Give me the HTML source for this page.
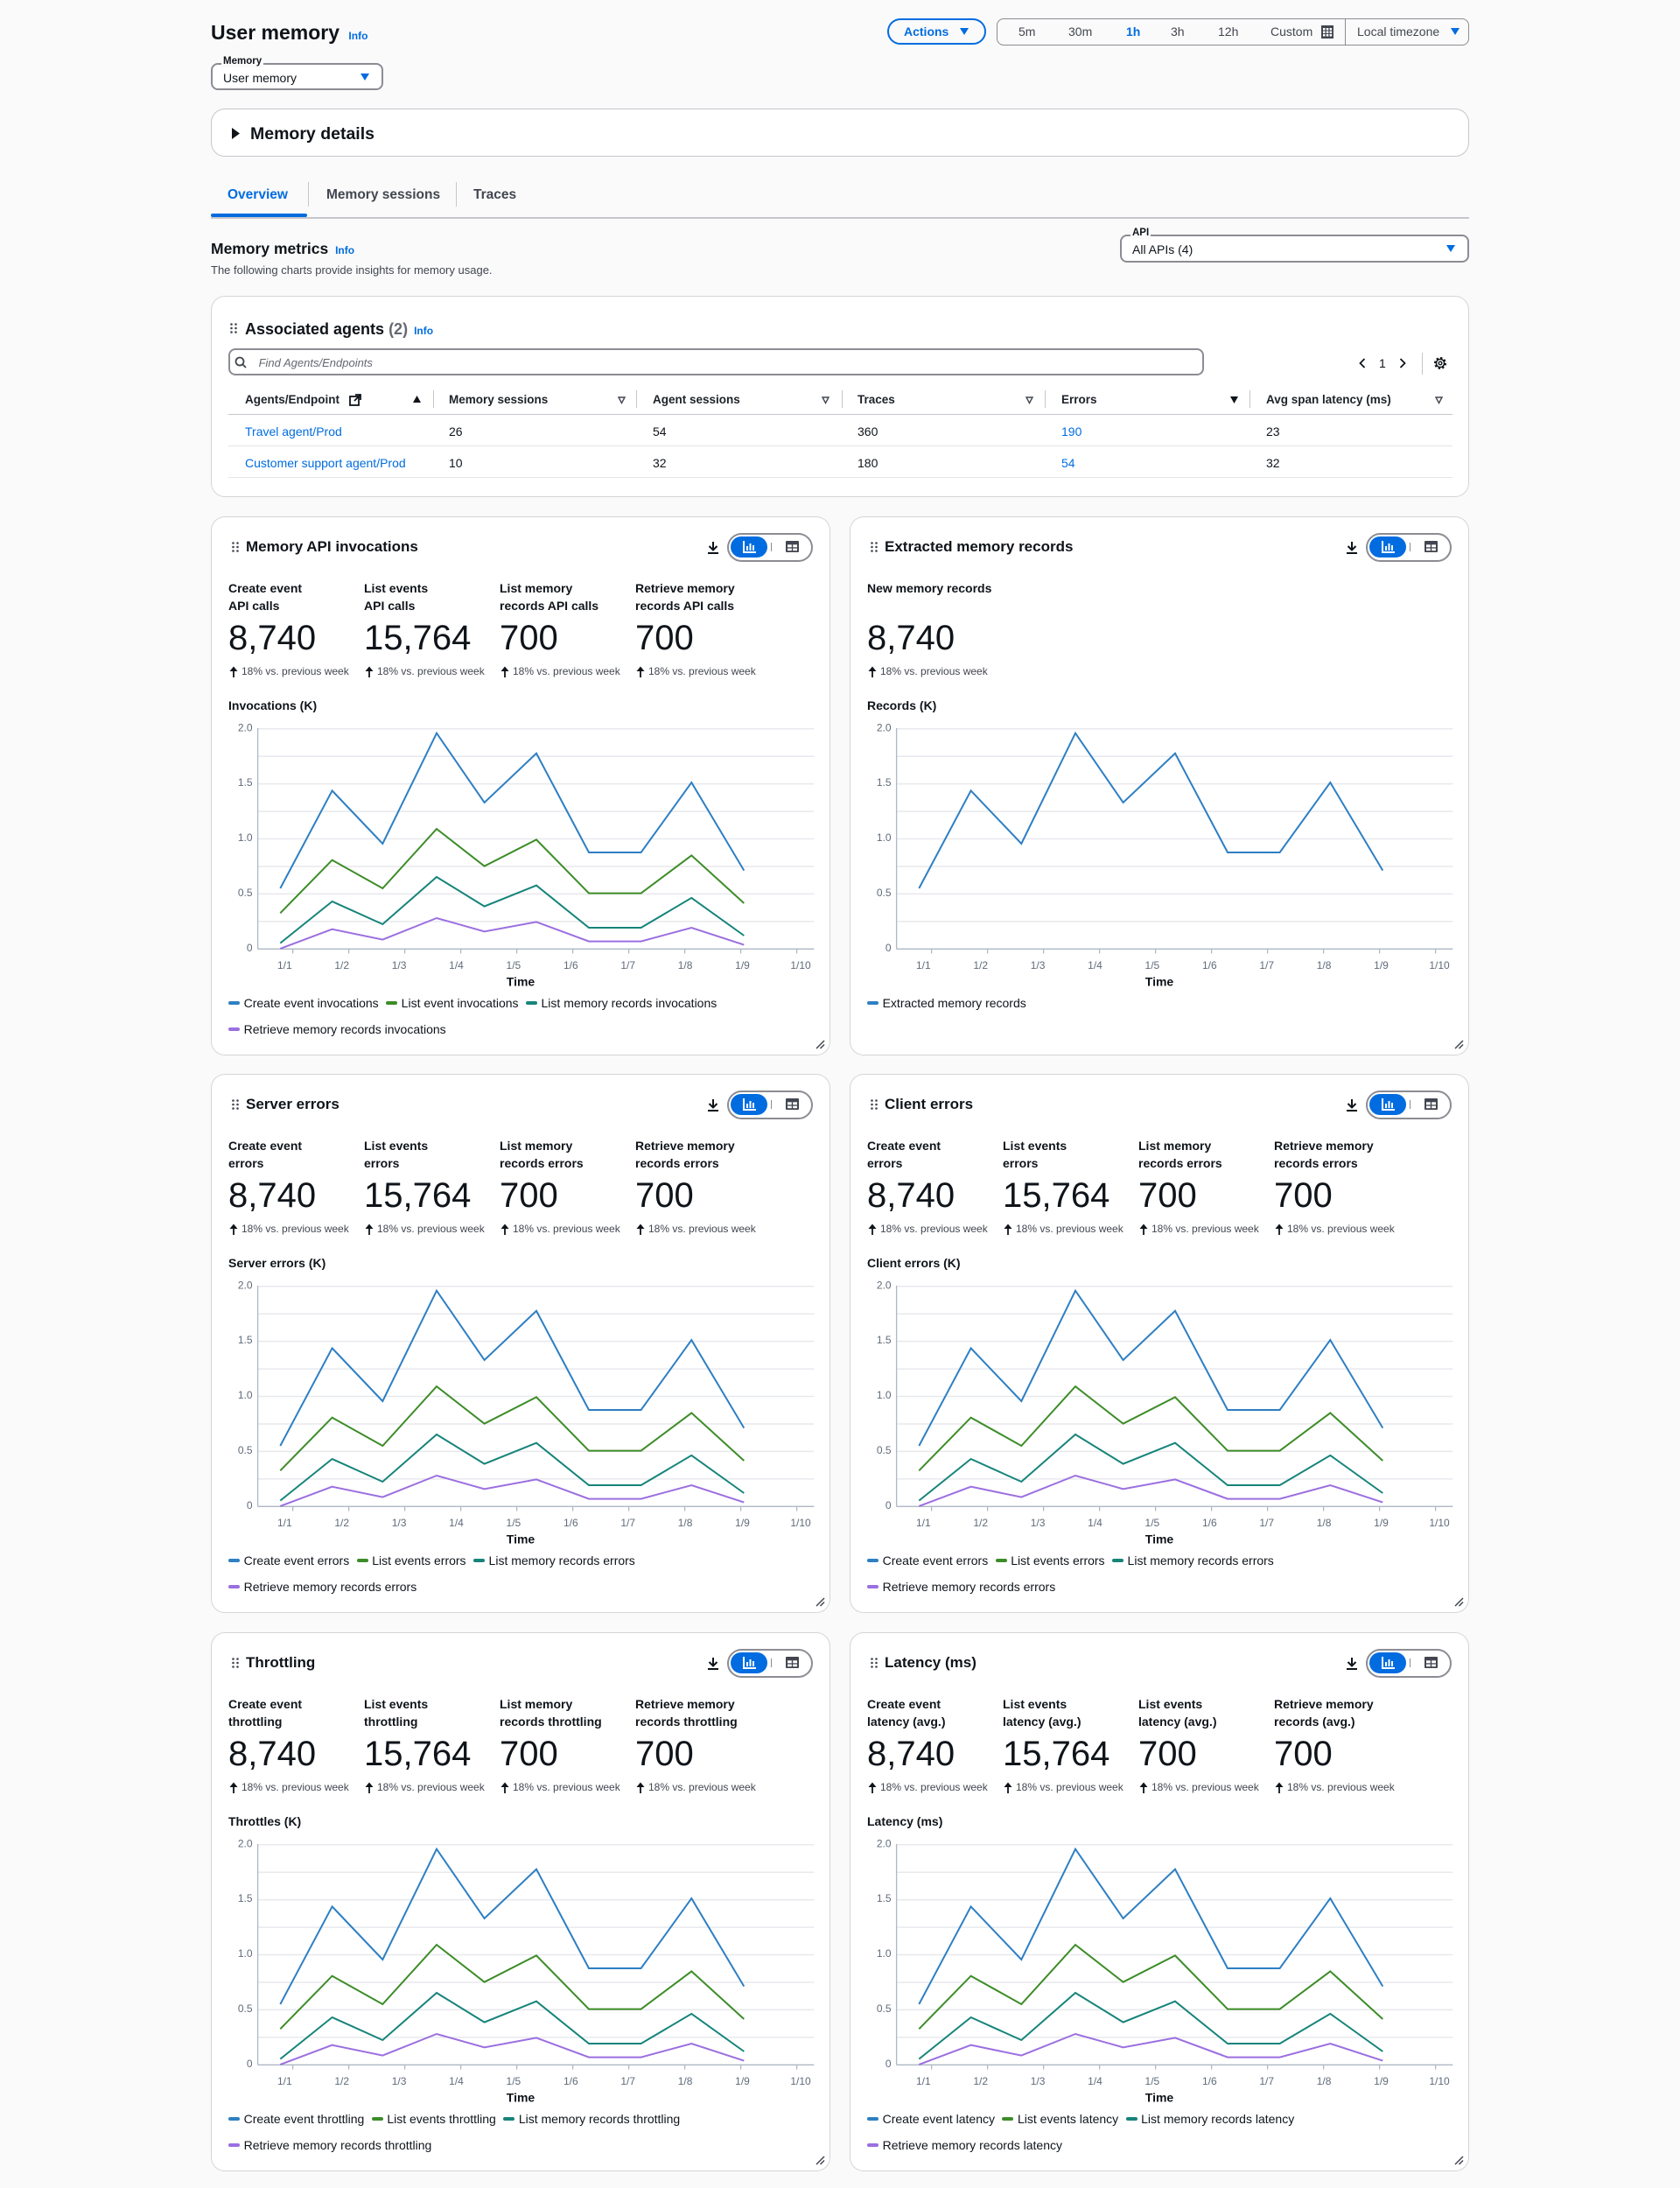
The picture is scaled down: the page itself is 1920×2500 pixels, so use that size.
<!DOCTYPE html>
<html>
<head>
<meta charset="utf-8">
<style>
*{box-sizing:border-box}
body{margin:0;width:1920px;height:2500px;background:#fafafa;font-family:"Liberation Sans",Arial,sans-serif;color:#0f141a;position:relative;overflow:hidden}
.a{position:absolute;white-space:nowrap}
.b{font-weight:bold}
.blue{color:#006ce0}
.p{position:absolute;width:708px;height:616px;background:#fff;border-radius:16px;box-shadow:inset 0 0 0 1px #d5d5da}
.pt{position:absolute;left:40px;top:23px;line-height:24px;font-size:17px;font-weight:bold;white-space:nowrap}
.sl{position:absolute;top:71.5px;line-height:20px;font-size:14px;font-weight:bold;white-space:nowrap}
.sn{position:absolute;top:114.5px;line-height:48px;font-size:40px;font-weight:300;white-space:nowrap;color:#0f141a}
.sc{position:absolute;top:169px;line-height:16px;font-size:12px;color:#424650;white-space:nowrap;padding-left:14px}
.sc svg{position:absolute;left:0;top:2px}
.ct{position:absolute;left:20px;top:205.7px;line-height:20px;font-size:14px;font-weight:bold;white-space:nowrap}
.lg{position:absolute;left:20px;line-height:20px;font-size:14px;white-space:nowrap;display:flex;align-items:center}
.lg i{display:inline-block;width:13px;height:4px;border-radius:2px;margin-right:4.6px}
.lg span{margin-right:8.4px}
.tg{position:absolute;left:589.7px;top:19px;width:98.6px;height:32.7px;border:2px solid #8c8c94;border-radius:17px}
.tgb{position:absolute;left:594px;top:23.3px;width:42.3px;height:23.4px;background:#006ce0;border-radius:12px}
.th{position:absolute;top:447px;line-height:20px;font-size:13.5px;font-weight:bold;color:#1d2129;white-space:nowrap}
.td{position:absolute;line-height:20px;font-size:14px;white-space:nowrap}
</style>
</head>
<body>

<!-- Header -->
<div class="a b" style="left:241px;top:22.7px;line-height:28px;font-size:23px">User memory <span class="blue" style="font-size:12px;margin-left:4px">Info</span></div>

<div class="a" style="left:1014px;top:20.7px;width:113px;height:30.5px;border:2px solid #006ce0;border-radius:20px"></div>
<div class="a b blue" style="left:1033px;top:27px;line-height:18px;font-size:14px">Actions</div>
<svg class="a" style="left:1097px;top:32px" width="10" height="9"><polygon points="0,0 10,0 5,8" fill="#006ce0"/></svg>

<div class="a" style="left:1139px;top:20.7px;width:540px;height:31px;border:1px solid #8c8c94;border-radius:8px;background:#fafafa"></div>
<div class="a" style="left:1164px;top:27px;line-height:18px;font-size:14px;color:#424650">5m</div>
<div class="a" style="left:1221px;top:27px;line-height:18px;font-size:14px;color:#424650">30m</div>
<div class="a b blue" style="left:1287px;top:27px;line-height:18px;font-size:14px">1h</div>
<div class="a" style="left:1338px;top:27px;line-height:18px;font-size:14px;color:#424650">3h</div>
<div class="a" style="left:1392px;top:27px;line-height:18px;font-size:14px;color:#424650">12h</div>
<div class="a" style="left:1452px;top:27px;line-height:18px;font-size:14px;color:#424650">Custom</div>
<svg class="a" style="left:1510px;top:29px" width="14" height="15"><rect width="14" height="15" fill="#424650"/><g fill="#fff"><rect x="2" y="3" width="2.5" height="2.5"/><rect x="5.8" y="3" width="2.5" height="2.5"/><rect x="9.6" y="3" width="2.5" height="2.5"/><rect x="2" y="6.5" width="2.5" height="2.5"/><rect x="5.8" y="6.5" width="2.5" height="2.5"/><rect x="9.6" y="6.5" width="2.5" height="2.5"/><rect x="2" y="10" width="2.5" height="2.5"/><rect x="5.8" y="10" width="2.5" height="2.5"/><rect x="9.6" y="10" width="2.5" height="2.5"/></g></svg>
<div class="a" style="left:1537px;top:21px;width:1px;height:30px;background:#8c8c94"></div>
<div class="a" style="left:1551px;top:27px;line-height:18px;font-size:14px;color:#424650">Local timezone</div>
<svg class="a" style="left:1658px;top:32px" width="10" height="9"><polygon points="0,0 10,0 5,8" fill="#006ce0"/></svg>

<!-- Memory select -->
<div class="a" style="left:241px;top:72px;width:197px;height:31px;border:2px solid #8c8c94;border-radius:8px;background:#fff"></div>
<div class="a b" style="left:253px;top:63px;line-height:14px;font-size:11.5px;background:#fafafa;padding:0 2px">Memory</div>
<div class="a" style="left:255px;top:80px;line-height:18px;font-size:14px">User memory</div>
<svg class="a" style="left:412px;top:84px" width="10" height="9"><polygon points="0,0 10,0 5,8" fill="#006ce0"/></svg>

<!-- Expander -->
<div class="a" style="left:241px;top:124px;width:1438px;height:55px;background:#fff;border:1px solid #c6c6cd;border-radius:16px"></div>
<svg class="a" style="left:265px;top:146px" width="10" height="13"><polygon points="0,0 9,6.5 0,13" fill="#0f141a"/></svg>
<div class="a b" style="left:286px;top:140px;line-height:26px;font-size:19.5px">Memory details</div>

<!-- Tabs -->
<div class="a b blue" style="left:260px;top:212px;line-height:22px;font-size:15.5px">Overview</div>
<div class="a" style="left:352px;top:208px;width:1px;height:28px;background:#c6c6cd"></div>
<div class="a b" style="left:373px;top:212px;line-height:22px;font-size:15.5px;color:#424650">Memory sessions</div>
<div class="a" style="left:521px;top:208px;width:1px;height:28px;background:#c6c6cd"></div>
<div class="a b" style="left:541px;top:212px;line-height:22px;font-size:15.5px;color:#424650">Traces</div>
<div class="a" style="left:241px;top:248px;width:1438px;height:1.5px;background:#c6c6cd"></div>
<div class="a" style="left:241px;top:244px;width:110px;height:4px;background:#006ce0;border-radius:2px"></div>

<!-- Memory metrics -->
<div class="a b" style="left:241px;top:272px;line-height:24px;font-size:17.5px">Memory metrics <span class="blue" style="font-size:12px;margin-left:3px">Info</span></div>
<div class="a" style="left:241px;top:300px;line-height:18px;font-size:13px;color:#424650">The following charts provide insights for memory usage.</div>

<div class="a" style="left:1280px;top:268px;width:399px;height:31.5px;border:2px solid #8c8c94;border-radius:8px;background:#fff"></div>
<div class="a b" style="left:1292px;top:259px;line-height:14px;font-size:11.5px;background:#fafafa;padding:0 2px">API</div>
<div class="a" style="left:1294px;top:276px;line-height:18px;font-size:14px">All APIs (4)</div>
<svg class="a" style="left:1653px;top:280px" width="10" height="9"><polygon points="0,0 10,0 5,8" fill="#006ce0"/></svg>

<!-- Associated agents -->
<div class="a" style="left:241px;top:338px;width:1438px;height:230px;background:#fff;border-radius:16px;box-shadow:inset 0 0 0 1px #d5d5da"></div>
<svg class="a" style="left:263px;top:369px" width="8" height="12"><g fill="#424650"><circle cx="1.5" cy="1.5" r="1.3"/><circle cx="6.5" cy="1.5" r="1.3"/><circle cx="1.5" cy="6" r="1.3"/><circle cx="6.5" cy="6" r="1.3"/><circle cx="1.5" cy="10.5" r="1.3"/><circle cx="6.5" cy="10.5" r="1.3"/></g></svg>
<div class="a b" style="left:280px;top:363px;line-height:26px;font-size:18px">Associated agents <span style="color:#656871">(2)</span> <span class="blue" style="font-size:12px;margin-left:2px">Info</span></div>

<div class="a" style="left:261px;top:398px;width:1115px;height:31px;border:2px solid #8c8c94;border-radius:8px;background:#fff"></div>
<svg class="a" style="left:268px;top:407px" width="14" height="14"><circle cx="6" cy="6" r="4.5" fill="none" stroke="#424650" stroke-width="1.8"/><line x1="9.3" y1="9.3" x2="13" y2="13" stroke="#424650" stroke-width="1.8"/></svg>
<div class="a" style="left:295.6px;top:406px;line-height:18px;font-size:13px;font-style:italic;color:#656871">Find Agents/Endpoints</div>

<svg class="a" style="left:1553px;top:409px" width="8" height="12"><polyline points="6.5,1 1.5,6 6.5,11" fill="none" stroke="#0f141a" stroke-width="1.8"/></svg>
<div class="a" style="left:1576px;top:406px;line-height:18px;font-size:14px">1</div>
<svg class="a" style="left:1599px;top:409px" width="8" height="12"><polyline points="1.5,1 6.5,6 1.5,11" fill="none" stroke="#0f141a" stroke-width="1.8"/></svg>
<div class="a" style="left:1625px;top:403px;width:1px;height:25px;background:#c6c6cd"></div>
<svg class="a" style="left:1638px;top:407px" width="16" height="16"><circle cx="8" cy="8" r="5.5" fill="none" stroke="#0f141a" stroke-width="3" stroke-dasharray="2.2 2.1"/><circle cx="8" cy="8" r="4.6" fill="none" stroke="#0f141a" stroke-width="1.5"/><circle cx="8" cy="8" r="1.8" fill="none" stroke="#0f141a" stroke-width="1.4"/></svg>

<!-- table header -->
<div class="th" style="left:280px">Agents/Endpoint</div>
<svg class="a" style="left:399px;top:450px" width="14" height="14"><rect x="1" y="3" width="10" height="10" fill="none" stroke="#0f141a" stroke-width="1.8"/><polyline points="7,1 13,1 13,7" fill="none" stroke="#0f141a" stroke-width="1.8"/><line x1="13" y1="1" x2="6" y2="8" stroke="#0f141a" stroke-width="1.8"/></svg>
<svg class="a" style="left:472px;top:452px" width="9" height="9"><polygon points="4.5,0 9,8 0,8" fill="#0f141a"/></svg>
<div class="a" style="left:494.6px;top:446px;width:1px;height:20px;background:#c6c6cd"></div>
<div class="th" style="left:513px">Memory sessions</div>
<svg class="a" style="left:706px;top:453px" width="9" height="9"><polygon points="1,1 8,1 4.5,7.5" fill="none" stroke="#424650" stroke-width="1.4"/></svg>
<div class="a" style="left:727px;top:446px;width:1px;height:20px;background:#c6c6cd"></div>
<div class="th" style="left:746px">Agent sessions</div>
<svg class="a" style="left:939px;top:453px" width="9" height="9"><polygon points="1,1 8,1 4.5,7.5" fill="none" stroke="#424650" stroke-width="1.4"/></svg>
<div class="a" style="left:961.6px;top:446px;width:1px;height:20px;background:#c6c6cd"></div>
<div class="th" style="left:980px">Traces</div>
<svg class="a" style="left:1172px;top:453px" width="9" height="9"><polygon points="1,1 8,1 4.5,7.5" fill="none" stroke="#424650" stroke-width="1.4"/></svg>
<div class="a" style="left:1194px;top:446px;width:1px;height:20px;background:#c6c6cd"></div>
<div class="th" style="left:1213px">Errors</div>
<svg class="a" style="left:1406px;top:453px" width="9" height="9"><polygon points="0,0 9,0 4.5,8" fill="#0f141a"/></svg>
<div class="a" style="left:1427.7px;top:446px;width:1px;height:20px;background:#c6c6cd"></div>
<div class="th" style="left:1447px">Avg span latency (ms)</div>
<svg class="a" style="left:1640px;top:453px" width="9" height="9"><polygon points="1,1 8,1 4.5,7.5" fill="none" stroke="#424650" stroke-width="1.4"/></svg>
<div class="a" style="left:261px;top:472.5px;width:1399px;height:1.5px;background:#c6c6cd"></div>

<div class="td blue" style="left:280px;top:483px">Travel agent/Prod</div>
<div class="td" style="left:513px;top:483px">26</div>
<div class="td" style="left:746px;top:483px">54</div>
<div class="td" style="left:980px;top:483px">360</div>
<div class="td blue" style="left:1213px;top:483px">190</div>
<div class="td" style="left:1447px;top:483px">23</div>
<div class="a" style="left:261px;top:509px;width:1399px;height:1px;background:#e6e6ea"></div>
<div class="td blue" style="left:280px;top:519px">Customer support agent/Prod</div>
<div class="td" style="left:513px;top:519px">10</div>
<div class="td" style="left:746px;top:519px">32</div>
<div class="td" style="left:980px;top:519px">180</div>
<div class="td blue" style="left:1213px;top:519px">54</div>
<div class="td" style="left:1447px;top:519px">32</div>
<div class="a" style="left:261px;top:545px;width:1399px;height:1px;background:#e6e6ea"></div>

<!-- ============ PANEL 1: Memory API invocations ============ -->
<div class="p" style="left:241px;top:590px">
<svg class="a" style="left:24px;top:29px" width="8" height="12"><g fill="#424650"><circle cx="1.5" cy="1.5" r="1.3"/><circle cx="6.5" cy="1.5" r="1.3"/><circle cx="1.5" cy="6" r="1.3"/><circle cx="6.5" cy="6" r="1.3"/><circle cx="1.5" cy="10.5" r="1.3"/><circle cx="6.5" cy="10.5" r="1.3"/></g></svg>
<div class="pt">Memory API invocations</div>
<svg class="a" style="left:567px;top:29px" width="14" height="14"><line x1="7" y1="0" x2="7" y2="9" stroke="#0f141a" stroke-width="2"/><polyline points="2.5,5 7,9.5 11.5,5" fill="none" stroke="#0f141a" stroke-width="2"/><line x1="1" y1="13" x2="13" y2="13" stroke="#0f141a" stroke-width="2"/></svg>
<div class="tg"></div><div class="tgb"></div>
<svg class="a" style="left:608px;top:28px" width="15" height="14"><polyline points="1,0 1,13 15,13" fill="none" stroke="#fff" stroke-width="2"/><rect x="4" y="6" width="2" height="5" fill="#fff"/><rect x="7.5" y="3" width="2" height="8" fill="#fff"/><rect x="11" y="5" width="2" height="6" fill="#fff"/></svg>
<div class="a" style="left:640px;top:30px;width:1px;height:10px;background:#8c8c94"></div>
<svg class="a" style="left:657px;top:28px" width="15" height="13"><rect width="15" height="13" rx="1" fill="#424650"/><g fill="#fff"><rect x="2" y="4.3" width="4.8" height="3"/><rect x="8.2" y="4.3" width="4.8" height="3"/><rect x="2" y="8.6" width="4.8" height="2.6"/><rect x="8.2" y="8.6" width="4.8" height="2.6"/></g></svg>

<div class="sl" style="left:20px">Create event<br>API calls</div>
<div class="sl" style="left:175px">List events<br>API calls</div>
<div class="sl" style="left:330px">List memory<br>records API calls</div>
<div class="sl" style="left:485px">Retrieve memory<br>records API calls</div>
<div class="sn" style="left:20px">8,740</div>
<div class="sn" style="left:175px">15,764</div>
<div class="sn" style="left:330px">700</div>
<div class="sn" style="left:485px">700</div>
<div class="sc" style="left:21px"><svg width="10" height="13"><line x1="5" y1="3" x2="5" y2="13" stroke="#0f141a" stroke-width="1.8"/><polygon points="0.5,6 5,0.5 9.5,6" fill="#0f141a"/></svg>18% vs. previous week</div>
<div class="sc" style="left:176px"><svg width="10" height="13"><line x1="5" y1="3" x2="5" y2="13" stroke="#0f141a" stroke-width="1.8"/><polygon points="0.5,6 5,0.5 9.5,6" fill="#0f141a"/></svg>18% vs. previous week</div>
<div class="sc" style="left:331px"><svg width="10" height="13"><line x1="5" y1="3" x2="5" y2="13" stroke="#0f141a" stroke-width="1.8"/><polygon points="0.5,6 5,0.5 9.5,6" fill="#0f141a"/></svg>18% vs. previous week</div>
<div class="sc" style="left:486px"><svg width="10" height="13"><line x1="5" y1="3" x2="5" y2="13" stroke="#0f141a" stroke-width="1.8"/><polygon points="0.5,6 5,0.5 9.5,6" fill="#0f141a"/></svg>18% vs. previous week</div>
<div class="ct">Invocations (K)</div>

<svg class="a" style="left:0;top:0" width="708" height="616" viewBox="0 0 708 616">
<g stroke="#e8e9ee" stroke-width="1.5"><line x1="54" x2="689.3" y1="242.7" y2="242.7"/><line x1="54" x2="689.3" y1="274.2" y2="274.2"/><line x1="54" x2="689.3" y1="305.6" y2="305.6"/><line x1="54" x2="689.3" y1="337.1" y2="337.1"/><line x1="54" x2="689.3" y1="368.5" y2="368.5"/><line x1="54" x2="689.3" y1="400" y2="400"/><line x1="54" x2="689.3" y1="431.4" y2="431.4"/><line x1="54" x2="689.3" y1="462.9" y2="462.9"/></g>
<g stroke="#aeb7c4" stroke-width="1.3"><line x1="53.6" x2="53.6" y1="242" y2="494.3"/><line x1="53.6" x2="689.3" y1="494.3" y2="494.3"/><line x1="93.6" x2="93.6" y1="494.3" y2="499.5"/><line x1="157.6" x2="157.6" y1="494.3" y2="499.5"/><line x1="221.6" x2="221.6" y1="494.3" y2="499.5"/><line x1="285.6" x2="285.6" y1="494.3" y2="499.5"/><line x1="349.6" x2="349.6" y1="494.3" y2="499.5"/><line x1="413.6" x2="413.6" y1="494.3" y2="499.5"/><line x1="477.6" x2="477.6" y1="494.3" y2="499.5"/><line x1="541.6" x2="541.6" y1="494.3" y2="499.5"/><line x1="605.6" x2="605.6" y1="494.3" y2="499.5"/><line x1="669.6" x2="669.6" y1="494.3" y2="499.5"/></g>
<g font-size="12" fill="#5f6b7a" text-anchor="end" font-family="Liberation Sans, sans-serif"><text x="47.5" y="245.3">2.0</text><text x="47.5" y="308.2">1.5</text><text x="47.5" y="371.1">1.0</text><text x="47.5" y="434">0.5</text><text x="47.5" y="496.9">0</text></g>
<g font-size="12" fill="#5f6b7a" text-anchor="middle" font-family="Liberation Sans, sans-serif"><text x="84.3" y="517">1/1</text><text x="149.7" y="517">1/2</text><text x="215.1" y="517">1/3</text><text x="280.5" y="517">1/4</text><text x="345.9" y="517">1/5</text><text x="411.3" y="517">1/6</text><text x="476.7" y="517">1/7</text><text x="542.1" y="517">1/8</text><text x="607.5" y="517">1/9</text><text x="674" y="517">1/10</text></g>
<text x="354" y="536.5" font-size="14" font-weight="bold" text-anchor="middle" fill="#0f141a" font-family="Liberation Sans, sans-serif">Time</text>
<g fill="none" stroke-width="2">
<polyline stroke="#2e7fc3" points="79.3,425 138.6,313.4 196.3,374 258,247.7 312.6,327 372,270.8 432,384 491.6,384 549.3,304.1 609.3,404.6"/>
<polyline stroke="#3d8c28" points="79.3,453.3 138.6,392.7 196.3,425 258,357.1 312.6,399.7 372,369.4 432,430.6 491.6,430.6 549.3,387.4 609.3,442"/>
<polyline stroke="#16847a" points="79.3,487.6 138.6,440 196.3,466 258,412 312.6,445.6 372,421.7 432,470 491.6,470 549.3,435.9 609.3,479"/>
<polyline stroke="#9b6fe0" points="79.3,493.9 138.6,471.7 196.3,483.6 258,459 312.6,474.3 372,463.4 432,485.6 491.6,485.6 549.3,470 609.3,489.6"/>
</g>
<g stroke="#424650" stroke-width="1.5"><line x1="701" y1="599" x2="692" y2="608"/><line x1="701" y1="603.5" x2="696.5" y2="608"/></g>
</svg>
<div class="lg" style="top:546px"><i style="background:#2e7fc3"></i><span>Create event invocations</span><i style="background:#3d8c28"></i><span>List event invocations</span><i style="background:#16847a"></i><span>List memory records invocations</span></div>
<div class="lg" style="top:576px"><i style="background:#9b6fe0"></i><span>Retrieve memory records invocations</span></div>
</div>

<!-- ============ PANEL 2: Extracted memory records ============ -->
<div class="p" style="left:971px;top:590px">
<svg class="a" style="left:24px;top:29px" width="8" height="12"><g fill="#424650"><circle cx="1.5" cy="1.5" r="1.3"/><circle cx="6.5" cy="1.5" r="1.3"/><circle cx="1.5" cy="6" r="1.3"/><circle cx="6.5" cy="6" r="1.3"/><circle cx="1.5" cy="10.5" r="1.3"/><circle cx="6.5" cy="10.5" r="1.3"/></g></svg>
<div class="pt">Extracted memory records</div>
<svg class="a" style="left:567px;top:29px" width="14" height="14"><line x1="7" y1="0" x2="7" y2="9" stroke="#0f141a" stroke-width="2"/><polyline points="2.5,5 7,9.5 11.5,5" fill="none" stroke="#0f141a" stroke-width="2"/><line x1="1" y1="13" x2="13" y2="13" stroke="#0f141a" stroke-width="2"/></svg>
<div class="tg"></div><div class="tgb"></div>
<svg class="a" style="left:608px;top:28px" width="15" height="14"><polyline points="1,0 1,13 15,13" fill="none" stroke="#fff" stroke-width="2"/><rect x="4" y="6" width="2" height="5" fill="#fff"/><rect x="7.5" y="3" width="2" height="8" fill="#fff"/><rect x="11" y="5" width="2" height="6" fill="#fff"/></svg>
<div class="a" style="left:640px;top:30px;width:1px;height:10px;background:#8c8c94"></div>
<svg class="a" style="left:657px;top:28px" width="15" height="13"><rect width="15" height="13" rx="1" fill="#424650"/><g fill="#fff"><rect x="2" y="4.3" width="4.8" height="3"/><rect x="8.2" y="4.3" width="4.8" height="3"/><rect x="2" y="8.6" width="4.8" height="2.6"/><rect x="8.2" y="8.6" width="4.8" height="2.6"/></g></svg>

<div class="sl" style="left:20px">New memory records</div>
<div class="sn" style="left:20px">8,740</div>
<div class="sc" style="left:21px"><svg width="10" height="13"><line x1="5" y1="3" x2="5" y2="13" stroke="#0f141a" stroke-width="1.8"/><polygon points="0.5,6 5,0.5 9.5,6" fill="#0f141a"/></svg>18% vs. previous week</div>
<div class="ct">Records (K)</div>

<svg class="a" style="left:0;top:0" width="708" height="616" viewBox="0 0 708 616">
<g stroke="#e8e9ee" stroke-width="1.5"><line x1="54" x2="689.3" y1="242.7" y2="242.7"/><line x1="54" x2="689.3" y1="274.2" y2="274.2"/><line x1="54" x2="689.3" y1="305.6" y2="305.6"/><line x1="54" x2="689.3" y1="337.1" y2="337.1"/><line x1="54" x2="689.3" y1="368.5" y2="368.5"/><line x1="54" x2="689.3" y1="400" y2="400"/><line x1="54" x2="689.3" y1="431.4" y2="431.4"/><line x1="54" x2="689.3" y1="462.9" y2="462.9"/></g>
<g stroke="#aeb7c4" stroke-width="1.3"><line x1="53.6" x2="53.6" y1="242" y2="494.3"/><line x1="53.6" x2="689.3" y1="494.3" y2="494.3"/><line x1="93.6" x2="93.6" y1="494.3" y2="499.5"/><line x1="157.6" x2="157.6" y1="494.3" y2="499.5"/><line x1="221.6" x2="221.6" y1="494.3" y2="499.5"/><line x1="285.6" x2="285.6" y1="494.3" y2="499.5"/><line x1="349.6" x2="349.6" y1="494.3" y2="499.5"/><line x1="413.6" x2="413.6" y1="494.3" y2="499.5"/><line x1="477.6" x2="477.6" y1="494.3" y2="499.5"/><line x1="541.6" x2="541.6" y1="494.3" y2="499.5"/><line x1="605.6" x2="605.6" y1="494.3" y2="499.5"/><line x1="669.6" x2="669.6" y1="494.3" y2="499.5"/></g>
<g font-size="12" fill="#5f6b7a" text-anchor="end" font-family="Liberation Sans, sans-serif"><text x="47.5" y="245.3">2.0</text><text x="47.5" y="308.2">1.5</text><text x="47.5" y="371.1">1.0</text><text x="47.5" y="434">0.5</text><text x="47.5" y="496.9">0</text></g>
<g font-size="12" fill="#5f6b7a" text-anchor="middle" font-family="Liberation Sans, sans-serif"><text x="84.3" y="517">1/1</text><text x="149.7" y="517">1/2</text><text x="215.1" y="517">1/3</text><text x="280.5" y="517">1/4</text><text x="345.9" y="517">1/5</text><text x="411.3" y="517">1/6</text><text x="476.7" y="517">1/7</text><text x="542.1" y="517">1/8</text><text x="607.5" y="517">1/9</text><text x="674" y="517">1/10</text></g>
<text x="354" y="536.5" font-size="14" font-weight="bold" text-anchor="middle" fill="#0f141a" font-family="Liberation Sans, sans-serif">Time</text>
<g fill="none" stroke-width="2">
<polyline stroke="#2e7fc3" points="79.3,425 138.6,313.4 196.3,374 258,247.7 312.6,327 372,270.8 432,384 491.6,384 549.3,304.1 609.3,404.6"/>
</g>
<g stroke="#424650" stroke-width="1.5"><line x1="701" y1="599" x2="692" y2="608"/><line x1="701" y1="603.5" x2="696.5" y2="608"/></g>
</svg>
<div class="lg" style="top:546px"><i style="background:#2e7fc3"></i><span>Extracted memory records</span></div>
</div>

<!-- ============ PANEL 3: Server errors ============ -->
<div class="p" style="left:241px;top:1227px">
<svg class="a" style="left:24px;top:29px" width="8" height="12"><g fill="#424650"><circle cx="1.5" cy="1.5" r="1.3"/><circle cx="6.5" cy="1.5" r="1.3"/><circle cx="1.5" cy="6" r="1.3"/><circle cx="6.5" cy="6" r="1.3"/><circle cx="1.5" cy="10.5" r="1.3"/><circle cx="6.5" cy="10.5" r="1.3"/></g></svg>
<div class="pt">Server errors</div>
<svg class="a" style="left:567px;top:29px" width="14" height="14"><line x1="7" y1="0" x2="7" y2="9" stroke="#0f141a" stroke-width="2"/><polyline points="2.5,5 7,9.5 11.5,5" fill="none" stroke="#0f141a" stroke-width="2"/><line x1="1" y1="13" x2="13" y2="13" stroke="#0f141a" stroke-width="2"/></svg>
<div class="tg"></div><div class="tgb"></div>
<svg class="a" style="left:608px;top:28px" width="15" height="14"><polyline points="1,0 1,13 15,13" fill="none" stroke="#fff" stroke-width="2"/><rect x="4" y="6" width="2" height="5" fill="#fff"/><rect x="7.5" y="3" width="2" height="8" fill="#fff"/><rect x="11" y="5" width="2" height="6" fill="#fff"/></svg>
<div class="a" style="left:640px;top:30px;width:1px;height:10px;background:#8c8c94"></div>
<svg class="a" style="left:657px;top:28px" width="15" height="13"><rect width="15" height="13" rx="1" fill="#424650"/><g fill="#fff"><rect x="2" y="4.3" width="4.8" height="3"/><rect x="8.2" y="4.3" width="4.8" height="3"/><rect x="2" y="8.6" width="4.8" height="2.6"/><rect x="8.2" y="8.6" width="4.8" height="2.6"/></g></svg>

<div class="sl" style="left:20px">Create event<br>errors</div>
<div class="sl" style="left:175px">List events<br>errors</div>
<div class="sl" style="left:330px">List memory<br>records errors</div>
<div class="sl" style="left:485px">Retrieve memory<br>records errors</div>
<div class="sn" style="left:20px">8,740</div>
<div class="sn" style="left:175px">15,764</div>
<div class="sn" style="left:330px">700</div>
<div class="sn" style="left:485px">700</div>
<div class="sc" style="left:21px"><svg width="10" height="13"><line x1="5" y1="3" x2="5" y2="13" stroke="#0f141a" stroke-width="1.8"/><polygon points="0.5,6 5,0.5 9.5,6" fill="#0f141a"/></svg>18% vs. previous week</div>
<div class="sc" style="left:176px"><svg width="10" height="13"><line x1="5" y1="3" x2="5" y2="13" stroke="#0f141a" stroke-width="1.8"/><polygon points="0.5,6 5,0.5 9.5,6" fill="#0f141a"/></svg>18% vs. previous week</div>
<div class="sc" style="left:331px"><svg width="10" height="13"><line x1="5" y1="3" x2="5" y2="13" stroke="#0f141a" stroke-width="1.8"/><polygon points="0.5,6 5,0.5 9.5,6" fill="#0f141a"/></svg>18% vs. previous week</div>
<div class="sc" style="left:486px"><svg width="10" height="13"><line x1="5" y1="3" x2="5" y2="13" stroke="#0f141a" stroke-width="1.8"/><polygon points="0.5,6 5,0.5 9.5,6" fill="#0f141a"/></svg>18% vs. previous week</div>
<div class="ct">Server errors (K)</div>

<svg class="a" style="left:0;top:0" width="708" height="616" viewBox="0 0 708 616">
<g stroke="#e8e9ee" stroke-width="1.5"><line x1="54" x2="689.3" y1="242.7" y2="242.7"/><line x1="54" x2="689.3" y1="274.2" y2="274.2"/><line x1="54" x2="689.3" y1="305.6" y2="305.6"/><line x1="54" x2="689.3" y1="337.1" y2="337.1"/><line x1="54" x2="689.3" y1="368.5" y2="368.5"/><line x1="54" x2="689.3" y1="400" y2="400"/><line x1="54" x2="689.3" y1="431.4" y2="431.4"/><line x1="54" x2="689.3" y1="462.9" y2="462.9"/></g>
<g stroke="#aeb7c4" stroke-width="1.3"><line x1="53.6" x2="53.6" y1="242" y2="494.3"/><line x1="53.6" x2="689.3" y1="494.3" y2="494.3"/><line x1="93.6" x2="93.6" y1="494.3" y2="499.5"/><line x1="157.6" x2="157.6" y1="494.3" y2="499.5"/><line x1="221.6" x2="221.6" y1="494.3" y2="499.5"/><line x1="285.6" x2="285.6" y1="494.3" y2="499.5"/><line x1="349.6" x2="349.6" y1="494.3" y2="499.5"/><line x1="413.6" x2="413.6" y1="494.3" y2="499.5"/><line x1="477.6" x2="477.6" y1="494.3" y2="499.5"/><line x1="541.6" x2="541.6" y1="494.3" y2="499.5"/><line x1="605.6" x2="605.6" y1="494.3" y2="499.5"/><line x1="669.6" x2="669.6" y1="494.3" y2="499.5"/></g>
<g font-size="12" fill="#5f6b7a" text-anchor="end" font-family="Liberation Sans, sans-serif"><text x="47.5" y="245.3">2.0</text><text x="47.5" y="308.2">1.5</text><text x="47.5" y="371.1">1.0</text><text x="47.5" y="434">0.5</text><text x="47.5" y="496.9">0</text></g>
<g font-size="12" fill="#5f6b7a" text-anchor="middle" font-family="Liberation Sans, sans-serif"><text x="84.3" y="517">1/1</text><text x="149.7" y="517">1/2</text><text x="215.1" y="517">1/3</text><text x="280.5" y="517">1/4</text><text x="345.9" y="517">1/5</text><text x="411.3" y="517">1/6</text><text x="476.7" y="517">1/7</text><text x="542.1" y="517">1/8</text><text x="607.5" y="517">1/9</text><text x="674" y="517">1/10</text></g>
<text x="354" y="536.5" font-size="14" font-weight="bold" text-anchor="middle" fill="#0f141a" font-family="Liberation Sans, sans-serif">Time</text>
<g fill="none" stroke-width="2">
<polyline stroke="#2e7fc3" points="79.3,425 138.6,313.4 196.3,374 258,247.7 312.6,327 372,270.8 432,384 491.6,384 549.3,304.1 609.3,404.6"/>
<polyline stroke="#3d8c28" points="79.3,453.3 138.6,392.7 196.3,425 258,357.1 312.6,399.7 372,369.4 432,430.6 491.6,430.6 549.3,387.4 609.3,442"/>
<polyline stroke="#16847a" points="79.3,487.6 138.6,440 196.3,466 258,412 312.6,445.6 372,421.7 432,470 491.6,470 549.3,435.9 609.3,479"/>
<polyline stroke="#9b6fe0" points="79.3,493.9 138.6,471.7 196.3,483.6 258,459 312.6,474.3 372,463.4 432,485.6 491.6,485.6 549.3,470 609.3,489.6"/>
</g>
<g stroke="#424650" stroke-width="1.5"><line x1="701" y1="599" x2="692" y2="608"/><line x1="701" y1="603.5" x2="696.5" y2="608"/></g>
</svg>
<div class="lg" style="top:546px"><i style="background:#2e7fc3"></i><span>Create event errors</span><i style="background:#3d8c28"></i><span>List events errors</span><i style="background:#16847a"></i><span>List memory records errors</span></div>
<div class="lg" style="top:576px"><i style="background:#9b6fe0"></i><span>Retrieve memory records errors</span></div>
</div>

<!-- ============ PANEL 4: Client errors ============ -->
<div class="p" style="left:971px;top:1227px">
<svg class="a" style="left:24px;top:29px" width="8" height="12"><g fill="#424650"><circle cx="1.5" cy="1.5" r="1.3"/><circle cx="6.5" cy="1.5" r="1.3"/><circle cx="1.5" cy="6" r="1.3"/><circle cx="6.5" cy="6" r="1.3"/><circle cx="1.5" cy="10.5" r="1.3"/><circle cx="6.5" cy="10.5" r="1.3"/></g></svg>
<div class="pt">Client errors</div>
<svg class="a" style="left:567px;top:29px" width="14" height="14"><line x1="7" y1="0" x2="7" y2="9" stroke="#0f141a" stroke-width="2"/><polyline points="2.5,5 7,9.5 11.5,5" fill="none" stroke="#0f141a" stroke-width="2"/><line x1="1" y1="13" x2="13" y2="13" stroke="#0f141a" stroke-width="2"/></svg>
<div class="tg"></div><div class="tgb"></div>
<svg class="a" style="left:608px;top:28px" width="15" height="14"><polyline points="1,0 1,13 15,13" fill="none" stroke="#fff" stroke-width="2"/><rect x="4" y="6" width="2" height="5" fill="#fff"/><rect x="7.5" y="3" width="2" height="8" fill="#fff"/><rect x="11" y="5" width="2" height="6" fill="#fff"/></svg>
<div class="a" style="left:640px;top:30px;width:1px;height:10px;background:#8c8c94"></div>
<svg class="a" style="left:657px;top:28px" width="15" height="13"><rect width="15" height="13" rx="1" fill="#424650"/><g fill="#fff"><rect x="2" y="4.3" width="4.8" height="3"/><rect x="8.2" y="4.3" width="4.8" height="3"/><rect x="2" y="8.6" width="4.8" height="2.6"/><rect x="8.2" y="8.6" width="4.8" height="2.6"/></g></svg>

<div class="sl" style="left:20px">Create event<br>errors</div>
<div class="sl" style="left:175px">List events<br>errors</div>
<div class="sl" style="left:330px">List memory<br>records errors</div>
<div class="sl" style="left:485px">Retrieve memory<br>records errors</div>
<div class="sn" style="left:20px">8,740</div>
<div class="sn" style="left:175px">15,764</div>
<div class="sn" style="left:330px">700</div>
<div class="sn" style="left:485px">700</div>
<div class="sc" style="left:21px"><svg width="10" height="13"><line x1="5" y1="3" x2="5" y2="13" stroke="#0f141a" stroke-width="1.8"/><polygon points="0.5,6 5,0.5 9.5,6" fill="#0f141a"/></svg>18% vs. previous week</div>
<div class="sc" style="left:176px"><svg width="10" height="13"><line x1="5" y1="3" x2="5" y2="13" stroke="#0f141a" stroke-width="1.8"/><polygon points="0.5,6 5,0.5 9.5,6" fill="#0f141a"/></svg>18% vs. previous week</div>
<div class="sc" style="left:331px"><svg width="10" height="13"><line x1="5" y1="3" x2="5" y2="13" stroke="#0f141a" stroke-width="1.8"/><polygon points="0.5,6 5,0.5 9.5,6" fill="#0f141a"/></svg>18% vs. previous week</div>
<div class="sc" style="left:486px"><svg width="10" height="13"><line x1="5" y1="3" x2="5" y2="13" stroke="#0f141a" stroke-width="1.8"/><polygon points="0.5,6 5,0.5 9.5,6" fill="#0f141a"/></svg>18% vs. previous week</div>
<div class="ct">Client errors (K)</div>

<svg class="a" style="left:0;top:0" width="708" height="616" viewBox="0 0 708 616">
<g stroke="#e8e9ee" stroke-width="1.5"><line x1="54" x2="689.3" y1="242.7" y2="242.7"/><line x1="54" x2="689.3" y1="274.2" y2="274.2"/><line x1="54" x2="689.3" y1="305.6" y2="305.6"/><line x1="54" x2="689.3" y1="337.1" y2="337.1"/><line x1="54" x2="689.3" y1="368.5" y2="368.5"/><line x1="54" x2="689.3" y1="400" y2="400"/><line x1="54" x2="689.3" y1="431.4" y2="431.4"/><line x1="54" x2="689.3" y1="462.9" y2="462.9"/></g>
<g stroke="#aeb7c4" stroke-width="1.3"><line x1="53.6" x2="53.6" y1="242" y2="494.3"/><line x1="53.6" x2="689.3" y1="494.3" y2="494.3"/><line x1="93.6" x2="93.6" y1="494.3" y2="499.5"/><line x1="157.6" x2="157.6" y1="494.3" y2="499.5"/><line x1="221.6" x2="221.6" y1="494.3" y2="499.5"/><line x1="285.6" x2="285.6" y1="494.3" y2="499.5"/><line x1="349.6" x2="349.6" y1="494.3" y2="499.5"/><line x1="413.6" x2="413.6" y1="494.3" y2="499.5"/><line x1="477.6" x2="477.6" y1="494.3" y2="499.5"/><line x1="541.6" x2="541.6" y1="494.3" y2="499.5"/><line x1="605.6" x2="605.6" y1="494.3" y2="499.5"/><line x1="669.6" x2="669.6" y1="494.3" y2="499.5"/></g>
<g font-size="12" fill="#5f6b7a" text-anchor="end" font-family="Liberation Sans, sans-serif"><text x="47.5" y="245.3">2.0</text><text x="47.5" y="308.2">1.5</text><text x="47.5" y="371.1">1.0</text><text x="47.5" y="434">0.5</text><text x="47.5" y="496.9">0</text></g>
<g font-size="12" fill="#5f6b7a" text-anchor="middle" font-family="Liberation Sans, sans-serif"><text x="84.3" y="517">1/1</text><text x="149.7" y="517">1/2</text><text x="215.1" y="517">1/3</text><text x="280.5" y="517">1/4</text><text x="345.9" y="517">1/5</text><text x="411.3" y="517">1/6</text><text x="476.7" y="517">1/7</text><text x="542.1" y="517">1/8</text><text x="607.5" y="517">1/9</text><text x="674" y="517">1/10</text></g>
<text x="354" y="536.5" font-size="14" font-weight="bold" text-anchor="middle" fill="#0f141a" font-family="Liberation Sans, sans-serif">Time</text>
<g fill="none" stroke-width="2">
<polyline stroke="#2e7fc3" points="79.3,425 138.6,313.4 196.3,374 258,247.7 312.6,327 372,270.8 432,384 491.6,384 549.3,304.1 609.3,404.6"/>
<polyline stroke="#3d8c28" points="79.3,453.3 138.6,392.7 196.3,425 258,357.1 312.6,399.7 372,369.4 432,430.6 491.6,430.6 549.3,387.4 609.3,442"/>
<polyline stroke="#16847a" points="79.3,487.6 138.6,440 196.3,466 258,412 312.6,445.6 372,421.7 432,470 491.6,470 549.3,435.9 609.3,479"/>
<polyline stroke="#9b6fe0" points="79.3,493.9 138.6,471.7 196.3,483.6 258,459 312.6,474.3 372,463.4 432,485.6 491.6,485.6 549.3,470 609.3,489.6"/>
</g>
<g stroke="#424650" stroke-width="1.5"><line x1="701" y1="599" x2="692" y2="608"/><line x1="701" y1="603.5" x2="696.5" y2="608"/></g>
</svg>
<div class="lg" style="top:546px"><i style="background:#2e7fc3"></i><span>Create event errors</span><i style="background:#3d8c28"></i><span>List events errors</span><i style="background:#16847a"></i><span>List memory records errors</span></div>
<div class="lg" style="top:576px"><i style="background:#9b6fe0"></i><span>Retrieve memory records errors</span></div>
</div>

<!-- ============ PANEL 5: Throttling ============ -->
<div class="p" style="left:241px;top:1865px">
<svg class="a" style="left:24px;top:29px" width="8" height="12"><g fill="#424650"><circle cx="1.5" cy="1.5" r="1.3"/><circle cx="6.5" cy="1.5" r="1.3"/><circle cx="1.5" cy="6" r="1.3"/><circle cx="6.5" cy="6" r="1.3"/><circle cx="1.5" cy="10.5" r="1.3"/><circle cx="6.5" cy="10.5" r="1.3"/></g></svg>
<div class="pt">Throttling</div>
<svg class="a" style="left:567px;top:29px" width="14" height="14"><line x1="7" y1="0" x2="7" y2="9" stroke="#0f141a" stroke-width="2"/><polyline points="2.5,5 7,9.5 11.5,5" fill="none" stroke="#0f141a" stroke-width="2"/><line x1="1" y1="13" x2="13" y2="13" stroke="#0f141a" stroke-width="2"/></svg>
<div class="tg"></div><div class="tgb"></div>
<svg class="a" style="left:608px;top:28px" width="15" height="14"><polyline points="1,0 1,13 15,13" fill="none" stroke="#fff" stroke-width="2"/><rect x="4" y="6" width="2" height="5" fill="#fff"/><rect x="7.5" y="3" width="2" height="8" fill="#fff"/><rect x="11" y="5" width="2" height="6" fill="#fff"/></svg>
<div class="a" style="left:640px;top:30px;width:1px;height:10px;background:#8c8c94"></div>
<svg class="a" style="left:657px;top:28px" width="15" height="13"><rect width="15" height="13" rx="1" fill="#424650"/><g fill="#fff"><rect x="2" y="4.3" width="4.8" height="3"/><rect x="8.2" y="4.3" width="4.8" height="3"/><rect x="2" y="8.6" width="4.8" height="2.6"/><rect x="8.2" y="8.6" width="4.8" height="2.6"/></g></svg>

<div class="sl" style="left:20px">Create event<br>throttling</div>
<div class="sl" style="left:175px">List events<br>throttling</div>
<div class="sl" style="left:330px">List memory<br>records throttling</div>
<div class="sl" style="left:485px">Retrieve memory<br>records throttling</div>
<div class="sn" style="left:20px">8,740</div>
<div class="sn" style="left:175px">15,764</div>
<div class="sn" style="left:330px">700</div>
<div class="sn" style="left:485px">700</div>
<div class="sc" style="left:21px"><svg width="10" height="13"><line x1="5" y1="3" x2="5" y2="13" stroke="#0f141a" stroke-width="1.8"/><polygon points="0.5,6 5,0.5 9.5,6" fill="#0f141a"/></svg>18% vs. previous week</div>
<div class="sc" style="left:176px"><svg width="10" height="13"><line x1="5" y1="3" x2="5" y2="13" stroke="#0f141a" stroke-width="1.8"/><polygon points="0.5,6 5,0.5 9.5,6" fill="#0f141a"/></svg>18% vs. previous week</div>
<div class="sc" style="left:331px"><svg width="10" height="13"><line x1="5" y1="3" x2="5" y2="13" stroke="#0f141a" stroke-width="1.8"/><polygon points="0.5,6 5,0.5 9.5,6" fill="#0f141a"/></svg>18% vs. previous week</div>
<div class="sc" style="left:486px"><svg width="10" height="13"><line x1="5" y1="3" x2="5" y2="13" stroke="#0f141a" stroke-width="1.8"/><polygon points="0.5,6 5,0.5 9.5,6" fill="#0f141a"/></svg>18% vs. previous week</div>
<div class="ct">Throttles (K)</div>

<svg class="a" style="left:0;top:0" width="708" height="616" viewBox="0 0 708 616">
<g stroke="#e8e9ee" stroke-width="1.5"><line x1="54" x2="689.3" y1="242.7" y2="242.7"/><line x1="54" x2="689.3" y1="274.2" y2="274.2"/><line x1="54" x2="689.3" y1="305.6" y2="305.6"/><line x1="54" x2="689.3" y1="337.1" y2="337.1"/><line x1="54" x2="689.3" y1="368.5" y2="368.5"/><line x1="54" x2="689.3" y1="400" y2="400"/><line x1="54" x2="689.3" y1="431.4" y2="431.4"/><line x1="54" x2="689.3" y1="462.9" y2="462.9"/></g>
<g stroke="#aeb7c4" stroke-width="1.3"><line x1="53.6" x2="53.6" y1="242" y2="494.3"/><line x1="53.6" x2="689.3" y1="494.3" y2="494.3"/><line x1="93.6" x2="93.6" y1="494.3" y2="499.5"/><line x1="157.6" x2="157.6" y1="494.3" y2="499.5"/><line x1="221.6" x2="221.6" y1="494.3" y2="499.5"/><line x1="285.6" x2="285.6" y1="494.3" y2="499.5"/><line x1="349.6" x2="349.6" y1="494.3" y2="499.5"/><line x1="413.6" x2="413.6" y1="494.3" y2="499.5"/><line x1="477.6" x2="477.6" y1="494.3" y2="499.5"/><line x1="541.6" x2="541.6" y1="494.3" y2="499.5"/><line x1="605.6" x2="605.6" y1="494.3" y2="499.5"/><line x1="669.6" x2="669.6" y1="494.3" y2="499.5"/></g>
<g font-size="12" fill="#5f6b7a" text-anchor="end" font-family="Liberation Sans, sans-serif"><text x="47.5" y="245.3">2.0</text><text x="47.5" y="308.2">1.5</text><text x="47.5" y="371.1">1.0</text><text x="47.5" y="434">0.5</text><text x="47.5" y="496.9">0</text></g>
<g font-size="12" fill="#5f6b7a" text-anchor="middle" font-family="Liberation Sans, sans-serif"><text x="84.3" y="517">1/1</text><text x="149.7" y="517">1/2</text><text x="215.1" y="517">1/3</text><text x="280.5" y="517">1/4</text><text x="345.9" y="517">1/5</text><text x="411.3" y="517">1/6</text><text x="476.7" y="517">1/7</text><text x="542.1" y="517">1/8</text><text x="607.5" y="517">1/9</text><text x="674" y="517">1/10</text></g>
<text x="354" y="536.5" font-size="14" font-weight="bold" text-anchor="middle" fill="#0f141a" font-family="Liberation Sans, sans-serif">Time</text>
<g fill="none" stroke-width="2">
<polyline stroke="#2e7fc3" points="79.3,425 138.6,313.4 196.3,374 258,247.7 312.6,327 372,270.8 432,384 491.6,384 549.3,304.1 609.3,404.6"/>
<polyline stroke="#3d8c28" points="79.3,453.3 138.6,392.7 196.3,425 258,357.1 312.6,399.7 372,369.4 432,430.6 491.6,430.6 549.3,387.4 609.3,442"/>
<polyline stroke="#16847a" points="79.3,487.6 138.6,440 196.3,466 258,412 312.6,445.6 372,421.7 432,470 491.6,470 549.3,435.9 609.3,479"/>
<polyline stroke="#9b6fe0" points="79.3,493.9 138.6,471.7 196.3,483.6 258,459 312.6,474.3 372,463.4 432,485.6 491.6,485.6 549.3,470 609.3,489.6"/>
</g>
<g stroke="#424650" stroke-width="1.5"><line x1="701" y1="599" x2="692" y2="608"/><line x1="701" y1="603.5" x2="696.5" y2="608"/></g>
</svg>
<div class="lg" style="top:546px"><i style="background:#2e7fc3"></i><span>Create event throttling</span><i style="background:#3d8c28"></i><span>List events throttling</span><i style="background:#16847a"></i><span>List memory records throttling</span></div>
<div class="lg" style="top:576px"><i style="background:#9b6fe0"></i><span>Retrieve memory records throttling</span></div>
</div>

<!-- ============ PANEL 6: Latency ============ -->
<div class="p" style="left:971px;top:1865px">
<svg class="a" style="left:24px;top:29px" width="8" height="12"><g fill="#424650"><circle cx="1.5" cy="1.5" r="1.3"/><circle cx="6.5" cy="1.5" r="1.3"/><circle cx="1.5" cy="6" r="1.3"/><circle cx="6.5" cy="6" r="1.3"/><circle cx="1.5" cy="10.5" r="1.3"/><circle cx="6.5" cy="10.5" r="1.3"/></g></svg>
<div class="pt">Latency (ms)</div>
<svg class="a" style="left:567px;top:29px" width="14" height="14"><line x1="7" y1="0" x2="7" y2="9" stroke="#0f141a" stroke-width="2"/><polyline points="2.5,5 7,9.5 11.5,5" fill="none" stroke="#0f141a" stroke-width="2"/><line x1="1" y1="13" x2="13" y2="13" stroke="#0f141a" stroke-width="2"/></svg>
<div class="tg"></div><div class="tgb"></div>
<svg class="a" style="left:608px;top:28px" width="15" height="14"><polyline points="1,0 1,13 15,13" fill="none" stroke="#fff" stroke-width="2"/><rect x="4" y="6" width="2" height="5" fill="#fff"/><rect x="7.5" y="3" width="2" height="8" fill="#fff"/><rect x="11" y="5" width="2" height="6" fill="#fff"/></svg>
<div class="a" style="left:640px;top:30px;width:1px;height:10px;background:#8c8c94"></div>
<svg class="a" style="left:657px;top:28px" width="15" height="13"><rect width="15" height="13" rx="1" fill="#424650"/><g fill="#fff"><rect x="2" y="4.3" width="4.8" height="3"/><rect x="8.2" y="4.3" width="4.8" height="3"/><rect x="2" y="8.6" width="4.8" height="2.6"/><rect x="8.2" y="8.6" width="4.8" height="2.6"/></g></svg>

<div class="sl" style="left:20px">Create event<br>latency (avg.)</div>
<div class="sl" style="left:175px">List events<br>latency (avg.)</div>
<div class="sl" style="left:330px">List events<br>latency (avg.)</div>
<div class="sl" style="left:485px">Retrieve memory<br>records (avg.)</div>
<div class="sn" style="left:20px">8,740</div>
<div class="sn" style="left:175px">15,764</div>
<div class="sn" style="left:330px">700</div>
<div class="sn" style="left:485px">700</div>
<div class="sc" style="left:21px"><svg width="10" height="13"><line x1="5" y1="3" x2="5" y2="13" stroke="#0f141a" stroke-width="1.8"/><polygon points="0.5,6 5,0.5 9.5,6" fill="#0f141a"/></svg>18% vs. previous week</div>
<div class="sc" style="left:176px"><svg width="10" height="13"><line x1="5" y1="3" x2="5" y2="13" stroke="#0f141a" stroke-width="1.8"/><polygon points="0.5,6 5,0.5 9.5,6" fill="#0f141a"/></svg>18% vs. previous week</div>
<div class="sc" style="left:331px"><svg width="10" height="13"><line x1="5" y1="3" x2="5" y2="13" stroke="#0f141a" stroke-width="1.8"/><polygon points="0.5,6 5,0.5 9.5,6" fill="#0f141a"/></svg>18% vs. previous week</div>
<div class="sc" style="left:486px"><svg width="10" height="13"><line x1="5" y1="3" x2="5" y2="13" stroke="#0f141a" stroke-width="1.8"/><polygon points="0.5,6 5,0.5 9.5,6" fill="#0f141a"/></svg>18% vs. previous week</div>
<div class="ct">Latency (ms)</div>

<svg class="a" style="left:0;top:0" width="708" height="616" viewBox="0 0 708 616">
<g stroke="#e8e9ee" stroke-width="1.5"><line x1="54" x2="689.3" y1="242.7" y2="242.7"/><line x1="54" x2="689.3" y1="274.2" y2="274.2"/><line x1="54" x2="689.3" y1="305.6" y2="305.6"/><line x1="54" x2="689.3" y1="337.1" y2="337.1"/><line x1="54" x2="689.3" y1="368.5" y2="368.5"/><line x1="54" x2="689.3" y1="400" y2="400"/><line x1="54" x2="689.3" y1="431.4" y2="431.4"/><line x1="54" x2="689.3" y1="462.9" y2="462.9"/></g>
<g stroke="#aeb7c4" stroke-width="1.3"><line x1="53.6" x2="53.6" y1="242" y2="494.3"/><line x1="53.6" x2="689.3" y1="494.3" y2="494.3"/><line x1="93.6" x2="93.6" y1="494.3" y2="499.5"/><line x1="157.6" x2="157.6" y1="494.3" y2="499.5"/><line x1="221.6" x2="221.6" y1="494.3" y2="499.5"/><line x1="285.6" x2="285.6" y1="494.3" y2="499.5"/><line x1="349.6" x2="349.6" y1="494.3" y2="499.5"/><line x1="413.6" x2="413.6" y1="494.3" y2="499.5"/><line x1="477.6" x2="477.6" y1="494.3" y2="499.5"/><line x1="541.6" x2="541.6" y1="494.3" y2="499.5"/><line x1="605.6" x2="605.6" y1="494.3" y2="499.5"/><line x1="669.6" x2="669.6" y1="494.3" y2="499.5"/></g>
<g font-size="12" fill="#5f6b7a" text-anchor="end" font-family="Liberation Sans, sans-serif"><text x="47.5" y="245.3">2.0</text><text x="47.5" y="308.2">1.5</text><text x="47.5" y="371.1">1.0</text><text x="47.5" y="434">0.5</text><text x="47.5" y="496.9">0</text></g>
<g font-size="12" fill="#5f6b7a" text-anchor="middle" font-family="Liberation Sans, sans-serif"><text x="84.3" y="517">1/1</text><text x="149.7" y="517">1/2</text><text x="215.1" y="517">1/3</text><text x="280.5" y="517">1/4</text><text x="345.9" y="517">1/5</text><text x="411.3" y="517">1/6</text><text x="476.7" y="517">1/7</text><text x="542.1" y="517">1/8</text><text x="607.5" y="517">1/9</text><text x="674" y="517">1/10</text></g>
<text x="354" y="536.5" font-size="14" font-weight="bold" text-anchor="middle" fill="#0f141a" font-family="Liberation Sans, sans-serif">Time</text>
<g fill="none" stroke-width="2">
<polyline stroke="#2e7fc3" points="79.3,425 138.6,313.4 196.3,374 258,247.7 312.6,327 372,270.8 432,384 491.6,384 549.3,304.1 609.3,404.6"/>
<polyline stroke="#3d8c28" points="79.3,453.3 138.6,392.7 196.3,425 258,357.1 312.6,399.7 372,369.4 432,430.6 491.6,430.6 549.3,387.4 609.3,442"/>
<polyline stroke="#16847a" points="79.3,487.6 138.6,440 196.3,466 258,412 312.6,445.6 372,421.7 432,470 491.6,470 549.3,435.9 609.3,479"/>
<polyline stroke="#9b6fe0" points="79.3,493.9 138.6,471.7 196.3,483.6 258,459 312.6,474.3 372,463.4 432,485.6 491.6,485.6 549.3,470 609.3,489.6"/>
</g>
<g stroke="#424650" stroke-width="1.5"><line x1="701" y1="599" x2="692" y2="608"/><line x1="701" y1="603.5" x2="696.5" y2="608"/></g>
</svg>
<div class="lg" style="top:546px"><i style="background:#2e7fc3"></i><span>Create event latency</span><i style="background:#3d8c28"></i><span>List events latency</span><i style="background:#16847a"></i><span>List memory records latency</span></div>
<div class="lg" style="top:576px"><i style="background:#9b6fe0"></i><span>Retrieve memory records latency</span></div>
</div>

</body>
</html>
